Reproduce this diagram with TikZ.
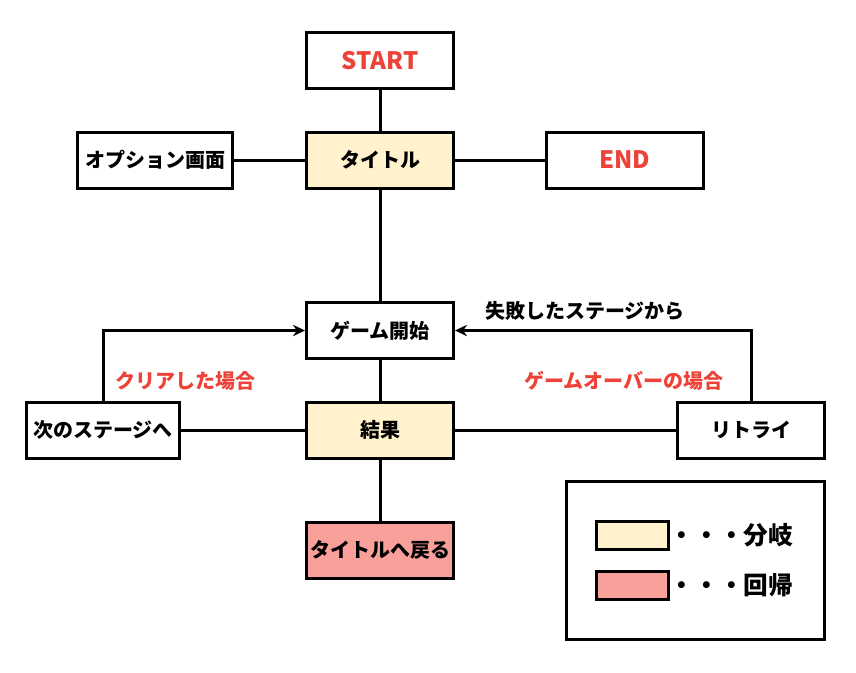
\documentclass[tikz,border=0pt]{standalone}
\usepackage{fontspec}
\setmainfont{Noto Sans CJK JP}
\usetikzlibrary{arrows.meta}

\definecolor{bunki}{RGB}{255,242,204}
\definecolor{kaiki}{RGB}{250,160,155}
\definecolor{akaji}{RGB}{236,66,56}

\begin{document}
\begin{tikzpicture}[x=0.75pt,y=0.75pt,yscale=-1,xscale=1,
  box/.style={draw, line width=2.25pt, minimum width=110.25pt, minimum height=42pt, inner sep=0pt, font=\bfseries\fontsize{15}{18}\selectfont},
  conn/.style={line width=2.25pt},
  lbl/.style={inner sep=0.75pt, font=\bfseries\fontsize{15}{18}\selectfont}]
%set diagram size: 856 x 672
\useasboundingbox (0,0) rectangle (856,672);

% Boxes
\draw (380,60.5) node [box, font=\bfseries\fontsize{18}{21}\selectfont, text=akaji] (start) {START};
\draw (380,160) node [box, fill=bunki] (title) {タイトル};
\draw (155,160) node [box, minimum width=116.25pt] (option) {オプション画面};
\draw (625,160) node [box, minimum width=117.75pt, font=\bfseries\fontsize{18}{21}\selectfont, text=akaji] (quit) {END};
\draw (380,330.5) node [box] (play) {ゲーム開始};
\draw (380,430) node [box, fill=bunki] (result) {結果};
\draw (103,430) node [box, minimum width=114.75pt] (nextstage) {次のステージへ};
\draw (751,430) node [box] (retry) {リトライ};
\draw (380,550) node [box, fill=kaiki] (back) {タイトルへ戻る};

%Straight Lines
\draw [conn] (start) -- (title) ;
\draw [conn] (option) -- (title) ;
\draw [conn] (title) -- (quit) ;
\draw [conn] (title) -- (play) ;
\draw [conn] (play) -- (result) ;
\draw [conn] (nextstage) -- (result) ;
\draw [conn] (result) -- (retry) ;
\draw [conn] (result) -- (back) ;
%Arrows
\draw [conn, -{Stealth[length=9pt,width=8.5pt]}] (nextstage.north) |- (play.west) ;
\draw [conn, -{Stealth[length=9pt,width=8.5pt]}] (retry.north) |- (play.east) ;

% Text Node
\draw (185,381) node [lbl, text=akaji] (lblclear) {クリアした場合};
% Text Node
\draw (624,381) node [lbl, text=akaji] (lblover) {ゲームオーバーの場合};
% Text Node
\draw (585,311) node [lbl] (lblfail) {失敗したステージから};

% Legend
\draw (695.5,560.5) node [draw, line width=2.25pt, minimum width=193.5pt, minimum height=118.5pt] (legend) {};
\draw (632,535.5) node [draw, line width=2.25pt, fill=bunki, minimum width=54pt, minimum height=21pt] (swY) {};
\draw (632,585.5) node [draw, line width=2.25pt, fill=kaiki, minimum width=54pt, minimum height=21pt] (swP) {};
\draw (swY.east) node [anchor=west, inner sep=0pt, font=\bfseries\fontsize{18.5}{21}\selectfont] (txtY) {・・・分岐};
\draw (swP.east) node [anchor=west, inner sep=0pt, font=\bfseries\fontsize{18.5}{21}\selectfont] (txtP) {・・・回帰};

\end{tikzpicture}
\end{document}
